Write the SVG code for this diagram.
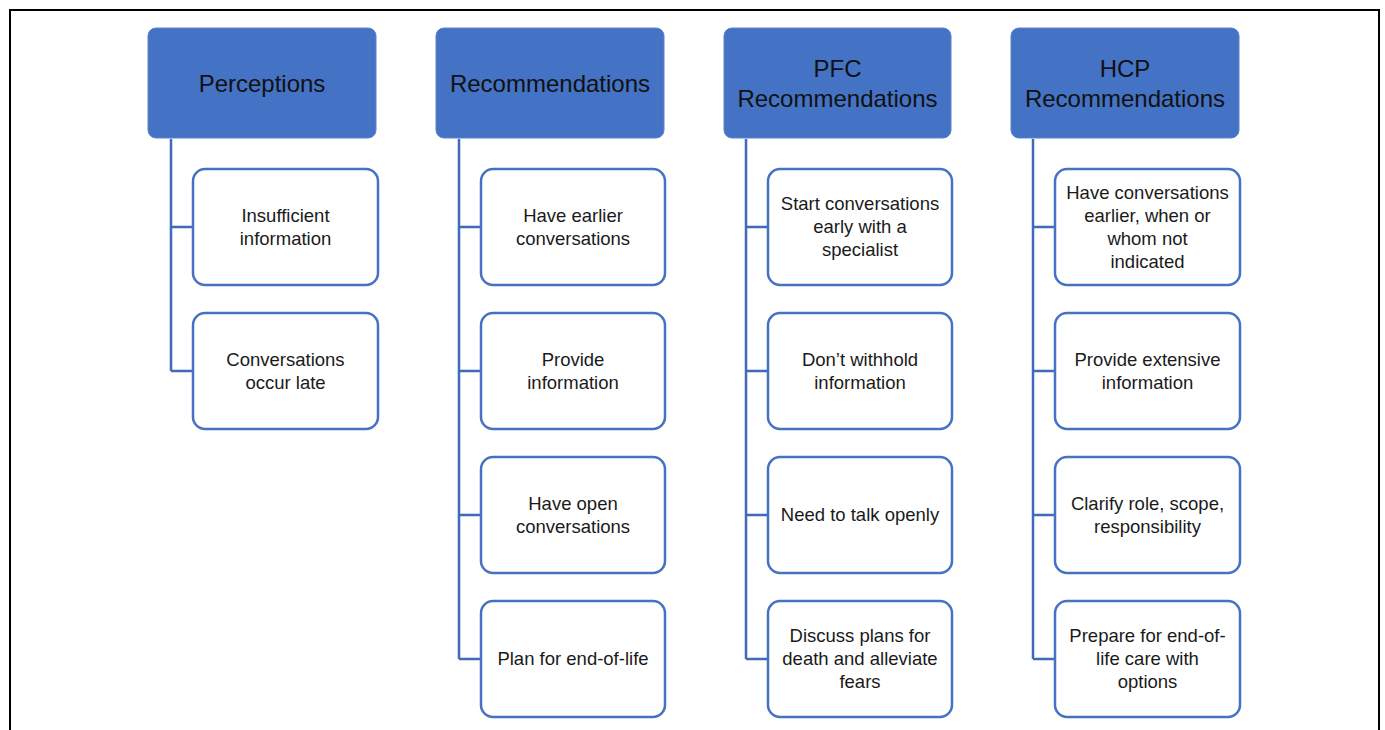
<svg xmlns="http://www.w3.org/2000/svg" width="1385" height="730" viewBox="0 0 1385 730">
<style>
.hdr{fill:#4472C4;stroke:#5A82CC;stroke-width:1}
.box{fill:#fff;stroke:#4472C4;stroke-width:2.5}
.con{fill:none;stroke:#4069B8;stroke-width:2.5}
.ht{font-family:"Liberation Sans",Arial,sans-serif;font-size:24px;fill:#111;text-anchor:middle}
.ct{font-family:"Liberation Sans",Arial,sans-serif;font-size:18.5px;fill:#1a1a1a;text-anchor:middle}
</style>
<rect width="1385" height="730" fill="#fff"/>
<path d="M10,732 V10 H1379 V732" fill="none" stroke="#000" stroke-width="2"/>
<g id="connectors">
<path class="con" d="M171,139 V371 M171,227 H193 M171,371 H193"/>
<path class="con" d="M459,139 V659 M459,227 H481 M459,371 H481 M459,515 H481 M459,659 H481"/>
<path class="con" d="M746,139 V659 M746,227 H768 M746,371 H768 M746,515 H768 M746,659 H768"/>
<path class="con" d="M1033,139 V659 M1033,227 H1055 M1033,371 H1055 M1033,515 H1055 M1033,659 H1055"/>
</g>
<g id="h1"><rect class="hdr" x="148" y="28" width="228" height="110" rx="8"/><text class="ht" x="262" y="91.5">Perceptions</text></g>
<g id="h2"><rect class="hdr" x="436" y="28" width="228" height="110" rx="8"/><text class="ht" x="550" y="91.5">Recommendations</text></g>
<g id="h3"><rect class="hdr" x="724" y="28" width="227" height="110" rx="8"/><text class="ht" x="837.5" y="76.5">PFC</text><text class="ht" x="837.5" y="106.5">Recommendations</text></g>
<g id="h4"><rect class="hdr" x="1011" y="28" width="228" height="110" rx="8"/><text class="ht" x="1125" y="76.5">HCP</text><text class="ht" x="1125" y="106.5">Recommendations</text></g>

<g id="c1a"><rect class="box" x="193" y="169" width="185" height="116" rx="12"/><text class="ct" x="285.5" y="221.5">Insufficient</text><text class="ct" x="285.5" y="244.5">information</text></g>
<g id="c1b"><rect class="box" x="193" y="313" width="185" height="116" rx="12"/><text class="ct" x="285.5" y="365.5">Conversations</text><text class="ct" x="285.5" y="388.5">occur late</text></g>

<g id="c2a"><rect class="box" x="481" y="169" width="184" height="116" rx="12"/><text class="ct" x="573" y="221.5">Have earlier</text><text class="ct" x="573" y="244.5">conversations</text></g>
<g id="c2b"><rect class="box" x="481" y="313" width="184" height="116" rx="12"/><text class="ct" x="573" y="365.5">Provide</text><text class="ct" x="573" y="388.5">information</text></g>
<g id="c2c"><rect class="box" x="481" y="457" width="184" height="116" rx="12"/><text class="ct" x="573" y="509.5">Have open</text><text class="ct" x="573" y="532.5">conversations</text></g>
<g id="c2d"><rect class="box" x="481" y="601" width="184" height="116" rx="12"/><text class="ct" x="573" y="665">Plan for end-of-life</text></g>

<g id="c3a"><rect class="box" x="768" y="169" width="184" height="116" rx="12"/><text class="ct" x="860" y="210">Start conversations</text><text class="ct" x="860" y="233">early with a</text><text class="ct" x="860" y="256">specialist</text></g>
<g id="c3b"><rect class="box" x="768" y="313" width="184" height="116" rx="12"/><text class="ct" x="860" y="365.5">Don’t withhold</text><text class="ct" x="860" y="388.5">information</text></g>
<g id="c3c"><rect class="box" x="768" y="457" width="184" height="116" rx="12"/><text class="ct" x="860" y="521">Need to talk openly</text></g>
<g id="c3d"><rect class="box" x="768" y="601" width="184" height="116" rx="12"/><text class="ct" x="860" y="642">Discuss plans for</text><text class="ct" x="860" y="665">death and alleviate</text><text class="ct" x="860" y="688">fears</text></g>

<g id="c4a"><rect class="box" x="1055" y="169" width="185" height="116" rx="12"/><text class="ct" x="1147.5" y="198.5">Have conversations</text><text class="ct" x="1147.5" y="221.5">earlier, when or</text><text class="ct" x="1147.5" y="244.5">whom not</text><text class="ct" x="1147.5" y="267.5">indicated</text></g>
<g id="c4b"><rect class="box" x="1055" y="313" width="185" height="116" rx="12"/><text class="ct" x="1147.5" y="365.5">Provide extensive</text><text class="ct" x="1147.5" y="388.5">information</text></g>
<g id="c4c"><rect class="box" x="1055" y="457" width="185" height="116" rx="12"/><text class="ct" x="1147.5" y="509.5">Clarify role, scope,</text><text class="ct" x="1147.5" y="532.5">responsibility</text></g>
<g id="c4d"><rect class="box" x="1055" y="601" width="185" height="116" rx="12"/><text class="ct" x="1147.5" y="642">Prepare for end-of-</text><text class="ct" x="1147.5" y="665">life care with</text><text class="ct" x="1147.5" y="688">options</text></g>
</svg>
